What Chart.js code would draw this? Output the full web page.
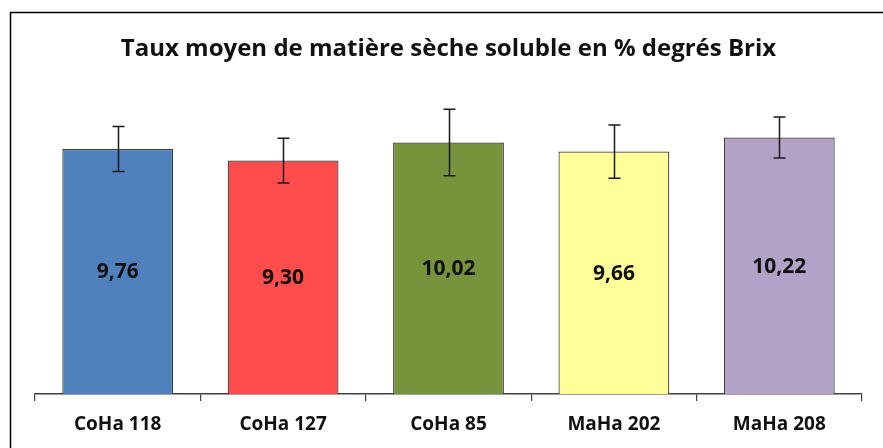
<!DOCTYPE html>
<html>
<head>
<meta charset="utf-8">
<script src="https://cdn.jsdelivr.net/npm/chart.js@4/dist/chart.umd.min.js"></script>
<style>
html,body{margin:0;padding:0;background:#fff;}
canvas{display:block;}
</style>
</head>
<body>
<canvas id="c" width="883" height="448"></canvas>
<script>
const categories = ["CoHa 118", "CoHa 127", "CoHa 85", "MaHa 202", "MaHa 208"];
const brixMeans = [9.76, 9.30, 10.02, 9.66, 10.22];
const brixErrors = [0.90, 0.89, 1.32, 1.06, 0.82];
const barColors = ["#4F81BD", "#FF4D4D", "#77933C", "#FFFF99", "#B3A2C7"];
const titleText = "Taux moyen de matière sèche soluble en % degrés Brix";

const FONT = "'Open Sans', 'DejaVu Sans', sans-serif";

const framePlugin = {
  id: 'frame',
  beforeDraw(chart) {
    const ctx = chart.ctx;
    ctx.save();
    ctx.fillStyle = '#fff';
    ctx.fillRect(0, 0, chart.width, chart.height);
    ctx.strokeStyle = '#000';
    ctx.lineWidth = 1.5;
    ctx.beginPath();
    ctx.moveTo(10.5, chart.height);
    ctx.lineTo(10.5, 12.5);
    ctx.lineTo(chart.width, 12.5);
    ctx.stroke();
    ctx.restore();
  }
};

const errorBarPlugin = {
  id: 'errorBars',
  afterDatasetsDraw(chart) {
    const ctx = chart.ctx;
    const y = chart.scales.y;
    const meta = chart.getDatasetMeta(0);
    ctx.save();
    ctx.strokeStyle = '#1a1a1a';
    ctx.lineWidth = 1.5;
    meta.data.forEach((bar, i) => {
      const v = brixMeans[i], e = brixErrors[i];
      const top = y.getPixelForValue(v + e);
      const bot = y.getPixelForValue(v - e);
      const x = Math.round(bar.x) + 0.5;
      ctx.beginPath();
      ctx.moveTo(x, top); ctx.lineTo(x, bot);
      ctx.moveTo(x - 6, top); ctx.lineTo(x + 6, top);
      ctx.moveTo(x - 6, bot); ctx.lineTo(x + 6, bot);
      ctx.stroke();
    });
    ctx.restore();
  }
};

const valueLabelPlugin = {
  id: 'valueLabels',
  afterDatasetsDraw(chart) {
    const ctx = chart.ctx;
    const meta = chart.getDatasetMeta(0);
    ctx.save();
    ctx.fillStyle = '#111';
    ctx.font = "bold 21px " + FONT;
    ctx.textAlign = 'center';
    ctx.textBaseline = 'middle';
    meta.data.forEach((bar, i) => {
      const txt = brixMeans[i].toFixed(2).replace('.', ',');
      ctx.fillText(txt, bar.x, (bar.y + bar.base) / 2 + 1);
    });
    ctx.restore();
  }
};

new Chart(document.getElementById('c'), {
  type: 'bar',
  data: {
    labels: categories,
    datasets: [{
      data: brixMeans,
      backgroundColor: barColors,
      borderColor: '#3a3a3a',
      borderWidth: 1.2,
      barPercentage: 0.67,
      categoryPercentage: 1.0
    }]
  },
  options: {
    responsive: false,
    animation: false,
    devicePixelRatio: 1,
    layout: { padding: { left: 35, right: 21, top: 0, bottom: 0 } },
    plugins: {
      legend: { display: false },
      tooltip: { enabled: false },
      title: {
        display: true,
        text: titleText,
        color: '#111',
        font: { family: FONT, size: 24, weight: 'bold' },
        padding: { top: 35, bottom: 29 }
      }
    },
    scales: {
      y: {
        display: false,
        min: 0,
        max: 12
      },
      x: {
        offset: true,
        grid: {
          offset: true,
          drawOnChartArea: false,
          drawTicks: true,
          tickLength: 7,
          color: '#404040',
          lineWidth: 1.2
        },
        border: { display: true, color: '#404040', width: 1.5 },
        ticks: {
          color: '#111',
          padding: 12,
          font: { family: FONT, size: 19, weight: 'bold' }
        },
        afterFit(scale) { scale.height = 54; }
      }
    }
  },
  plugins: [framePlugin, errorBarPlugin, valueLabelPlugin]
});
</script>
</body>
</html>
